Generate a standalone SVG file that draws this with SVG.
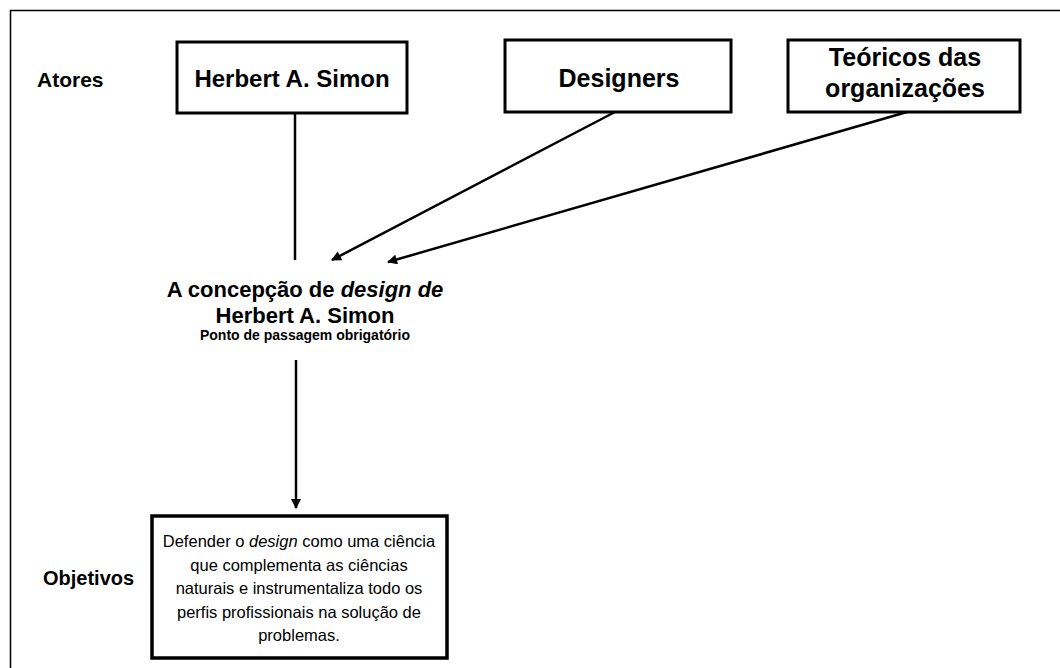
<svg xmlns="http://www.w3.org/2000/svg" width="1060" height="668" viewBox="0 0 1060 668">
  <style>
    .frame { fill: none; stroke: #000; stroke-width: 1.5; }
    .box { fill: #fff; stroke: #000; stroke-width: 3; }
    .box-thick { fill: #fff; stroke: #000; stroke-width: 3.5; }
    .link { fill: none; stroke: #000; stroke-width: 2.5; }
    .label { font-family: "Liberation Sans", Arial, sans-serif; font-weight: bold; fill: #000; }
    .actor { font-family: "Liberation Sans", Arial, sans-serif; font-weight: bold; font-size: 25px; fill: #000; text-anchor: middle; }
    .actor.small { font-size: 24px; }
    .centre { font-family: "Liberation Sans", Arial, sans-serif; font-weight: bold; fill: #000; text-anchor: middle; }
    .body { font-family: "Liberation Sans", Arial, sans-serif; font-size: 16.5px; fill: #000; text-anchor: middle; }
  </style>
  <defs>
    <marker id="arrow" viewBox="0 0 10 10" refX="9" refY="5" markerWidth="4.4" markerHeight="4" orient="auto" markerUnits="strokeWidth">
      <path d="M0,0 L10,5 L0,10 Z" fill="#000"/>
    </marker>
  </defs>

  <rect width="1060" height="668" fill="#fff"/>
  <!-- open frame: top and left edges only -->
  <path class="frame" d="M10.5,668 L10.5,10.5 L1060,10.5"/>

  <!-- row labels -->
  <text class="label" x="37" y="87" font-size="21">Atores</text>
  <text class="label" x="43" y="585" font-size="20">Objetivos</text>

  <g id="connectors">
    <line class="link" x1="295" y1="113" x2="295" y2="260"/>
    <line class="link" x1="615" y1="112" x2="332" y2="260" marker-end="url(#arrow)"/>
    <line class="link" x1="907" y1="112" x2="388" y2="262" marker-end="url(#arrow)"/>
    <line class="link" x1="296" y1="360" x2="296" y2="508" marker-end="url(#arrow)"/>
  </g>

  <g id="node-simon">
    <rect class="box" x="177" y="42" width="230" height="71"/>
    <text class="actor small" x="292" y="87">Herbert A. Simon</text>
  </g>

  <g id="node-designers">
    <rect class="box" x="505" y="40" width="226" height="72"/>
    <text class="actor" x="619" y="87">Designers</text>
  </g>

  <g id="node-teoricos">
    <rect class="box" x="788" y="40" width="232" height="72"/>
    <text class="actor" x="905" y="66">Teóricos das</text>
    <text class="actor" x="905" y="97">organizações</text>
  </g>

  <g id="node-concepcao">
    <text class="centre" x="305" y="297" font-size="22">A concepção de <tspan font-style="italic">design de</tspan></text>
    <text class="centre" x="305" y="323" font-size="22">Herbert A. Simon</text>
    <text class="centre" x="305" y="340" font-size="14">Ponto de passagem obrigatório</text>
  </g>

  <g id="node-objetivo">
    <rect class="box-thick" x="152" y="516" width="295" height="142"/>
    <text class="body" x="299" y="547">Defender o <tspan font-style="italic">design</tspan> como uma ciência</text>
    <text class="body" x="299" y="571">que complementa as ciências</text>
    <text class="body" x="299" y="594">naturais e instrumentaliza todo os</text>
    <text class="body" x="299" y="618">perfis profissionais na solução de</text>
    <text class="body" x="299" y="641">problemas.</text>
  </g>
</svg>
